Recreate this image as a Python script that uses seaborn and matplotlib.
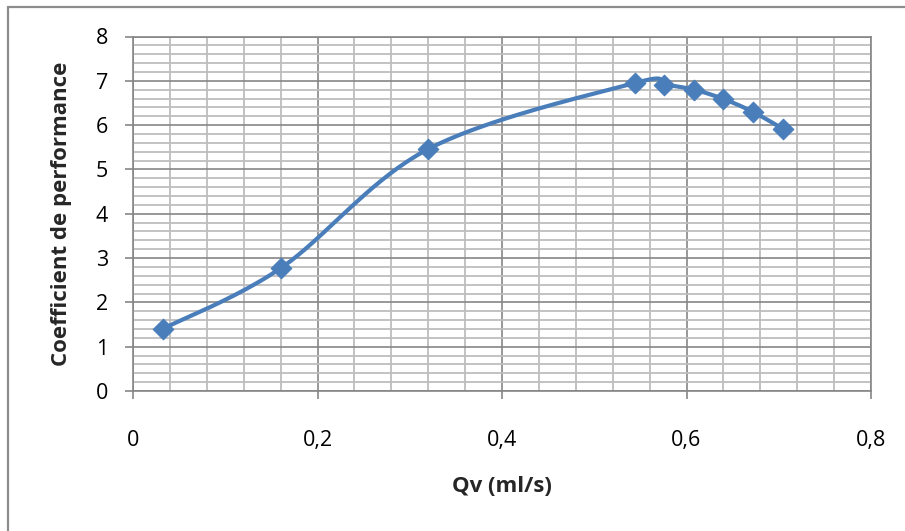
import numpy as np
import matplotlib
matplotlib.use("Agg")
import matplotlib.pyplot as plt
from matplotlib.lines import Line2D
from matplotlib.ticker import MultipleLocator, FixedLocator
import seaborn as sns

sns.set_theme(style="white")
plt.rcParams['font.family'] = ['Open Sans', 'DejaVu Sans']

# --- data ---
qv = [0.032, 0.160, 0.320, 0.544, 0.576, 0.608, 0.640, 0.672, 0.705]
cop = [1.40, 2.77, 5.46, 6.95, 6.91, 6.80, 6.59, 6.30, 5.91]
x_ticks = [0, 0.2, 0.4, 0.6, 0.8]
x_tick_labels = ["0", "0,2", "0,4", "0,6", "0,8"]
y_ticks = [0, 1, 2, 3, 4, 5, 6, 7, 8]

BLUE = '#4a7ebb'
MAJOR = '#868686'
MINOR = '#bdbdbd'

fig = plt.figure(figsize=(9.05, 5.31), dpi=100)
ax = fig.add_axes([133 / 905, 1 - 391 / 531, (871 - 133) / 905, (391 - 36.5) / 531])
ax.set_xlim(0, 0.8)
ax.set_ylim(0, 8)

# excel-like smoothed line: bezier segments built in display space
def smooth_curve(xs, ys, n=40):
    pts = ax.transData.transform(np.column_stack([xs, ys]))
    out = [pts[0]]
    for i in range(len(pts) - 1):
        p0 = pts[i - 1] if i > 0 else pts[i]
        p1, p2 = pts[i], pts[i + 1]
        p3 = pts[i + 2] if i + 2 < len(pts) else pts[i + 1]
        c1 = p1 + (p2 - p0) / 6
        c2 = p2 - (p3 - p1) / 6
        t = np.linspace(0, 1, n)[1:, None]
        seg = ((1 - t) ** 3) * p1 + 3 * ((1 - t) ** 2) * t * c1 + 3 * (1 - t) * t ** 2 * c2 + t ** 3 * p2
        out.extend(seg)
    return ax.transData.inverted().transform(np.array(out))

curve = smooth_curve(qv, cop)
sns.lineplot(x=curve[:, 0], y=curve[:, 1], ax=ax, color=BLUE, linewidth=3.0,
             sort=False, estimator=None, zorder=3)
sns.scatterplot(x=qv, y=cop, ax=ax, marker='D', s=110, color=BLUE,
                edgecolor=BLUE, linewidth=0.8, zorder=4)

# grid
ax.xaxis.set_major_locator(FixedLocator(x_ticks))
ax.yaxis.set_major_locator(FixedLocator(y_ticks))
ax.xaxis.set_minor_locator(MultipleLocator(0.04))
ax.yaxis.set_minor_locator(MultipleLocator(0.2))
ax.grid(which='minor', color=MINOR, linewidth=1.3, zorder=0)
ax.grid(which='major', color=MAJOR, linewidth=1.2, zorder=1)
ax.set_axisbelow(True)

ax.set_xticklabels(x_tick_labels)
ax.set_yticklabels([str(v) for v in y_ticks])
ax.tick_params(axis='both', which='major', direction='out', length=6, width=1.2,
               color=MAJOR, labelsize=15.5, labelcolor='black')
ax.tick_params(axis='x', which='major', pad=22, bottom=True)
ax.tick_params(axis='y', which='major', pad=12, left=True)
ax.tick_params(which='minor', length=0)

for s in ax.spines.values():
    s.set_color(MAJOR)
    s.set_linewidth(1.2)

ax.set_xlabel('Qv (ml/s)', fontsize=16, fontweight='bold', va='center')
ax.set_ylabel('Coefficient de performance', fontsize=16, fontweight='bold', va='center')
ax.xaxis.set_label_coords(0.5, (391 - 487) / 354.5)
ax.yaxis.set_label_coords((62 - 133) / 738, 0.5)

# outer chart border (only top and left visible in the crop)
fig.add_artist(Line2D([8 / 905, 8 / 905], [0, 1 - 7 / 531], color='#8c8c8c', linewidth=1.6,
                      transform=fig.transFigure))
fig.add_artist(Line2D([8 / 905, 1], [1 - 7 / 531, 1 - 7 / 531], color='#8c8c8c', linewidth=1.6,
                      transform=fig.transFigure))

fig.savefig('out.png', dpi=100)
